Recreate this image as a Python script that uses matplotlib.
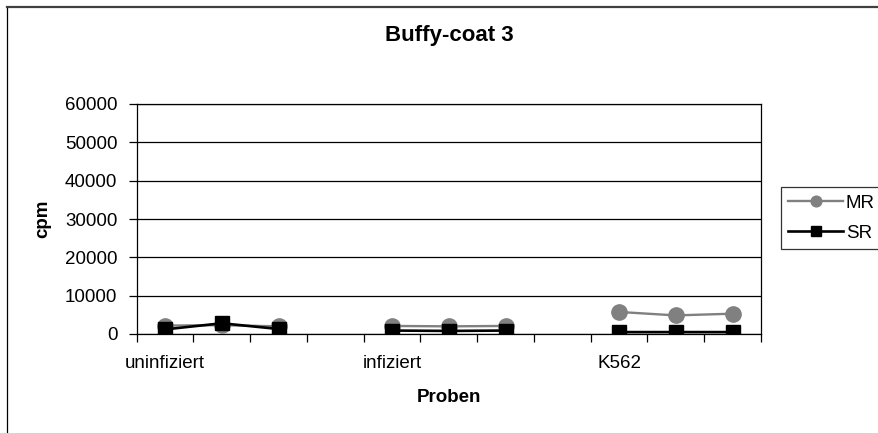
import matplotlib.pyplot as plt
from matplotlib.lines import Line2D
import numpy as np

plt.rcParams['font.family'] = ['Liberation Sans', 'DejaVu Sans']

# categories along the x axis (11 slots, two empty separators)
categories = ["uninfiziert", "", "", "", "infiziert", "", "", "", "K562", "", ""]
mr_values = [2200, 2300, 2000, None, 2100, 2000, 2100, None, 5750, 4850, 5300]
sr_values = [1200, 2800, 1300, None, 900, 800, 900, None, 500, 500, 500]


def to_array(values):
    return np.array([np.nan if v is None else v for v in values], dtype=float)


W, H = 879, 433
fig = plt.figure(figsize=(W / 100, H / 100), dpi=100)
ax = fig.add_axes([136.7 / W, 1 - 334 / H, (761 - 136.7) / W, 230 / H])

x = np.arange(len(categories))
mr = to_array(mr_values)
sr = to_array(sr_values)

ax.plot(x, mr, '-o', color="#808080", lw=1.7, markersize=11, label="MR", zorder=3)
ax.plot(x, sr, '-s', color="black", lw=1.9, markersize=10.5, label="SR", zorder=4)

ax.set_xlim(-0.5, len(categories) - 0.5)
ax.set_ylim(0, 60000)
ax.set_yticks(np.arange(0, 60001, 10000))
ax.grid(True, axis='y', color='black', lw=0.9)
ax.set_axisbelow(True)

# labels at category centres, tick marks at the boundaries
ax.set_xticks(x)
ax.set_xticklabels(categories)
ax.set_xticks(np.arange(-0.5, len(categories)), minor=True)
ax.tick_params(axis='x', which='major', length=0, pad=15, labelsize=13.5)
ax.tick_params(axis='x', which='minor', length=6, width=0.9, direction='out')
ax.tick_params(axis='y', length=6, width=0.9, direction='out', labelsize=13.5, pad=8)
for s in ax.spines.values():
    s.set_linewidth(0.9)

fig.text(449 / W, 1 - 36 / H, "Buffy-coat 3", fontsize=16, fontweight='bold',
         ha='center', va='center')
fig.text(449 / W, 1 - 397 / H, "Proben", fontsize=13.5, fontweight='bold',
         ha='center', va='center')
fig.text(43 / W, 1 - 219 / H, "cpm", fontsize=13.5, fontweight='bold',
         ha='center', va='center', rotation=90)

leg = ax.legend(loc='upper left', bbox_to_anchor=(781 / W, 1 - 187 / H),
                bbox_transform=fig.transFigure, fontsize=13.5,
                markerscale=0.7, handlelength=2.9, handletextpad=0.15,
                borderpad=0.4, labelspacing=0.7, frameon=True, fancybox=False,
                borderaxespad=0)
leg.get_frame().set_edgecolor('black')
leg.get_frame().set_linewidth(0.9)

# outer chart border (left and top edges)
fig.add_artist(Line2D([7 / W, 7 / W], [0, 1 - 7 / H], color='black', lw=0.9))
fig.add_artist(Line2D([7 / W, 1], [1 - 7 / H, 1 - 7 / H], color='#404040', lw=1.6))

fig.savefig("out.png", dpi=100)
